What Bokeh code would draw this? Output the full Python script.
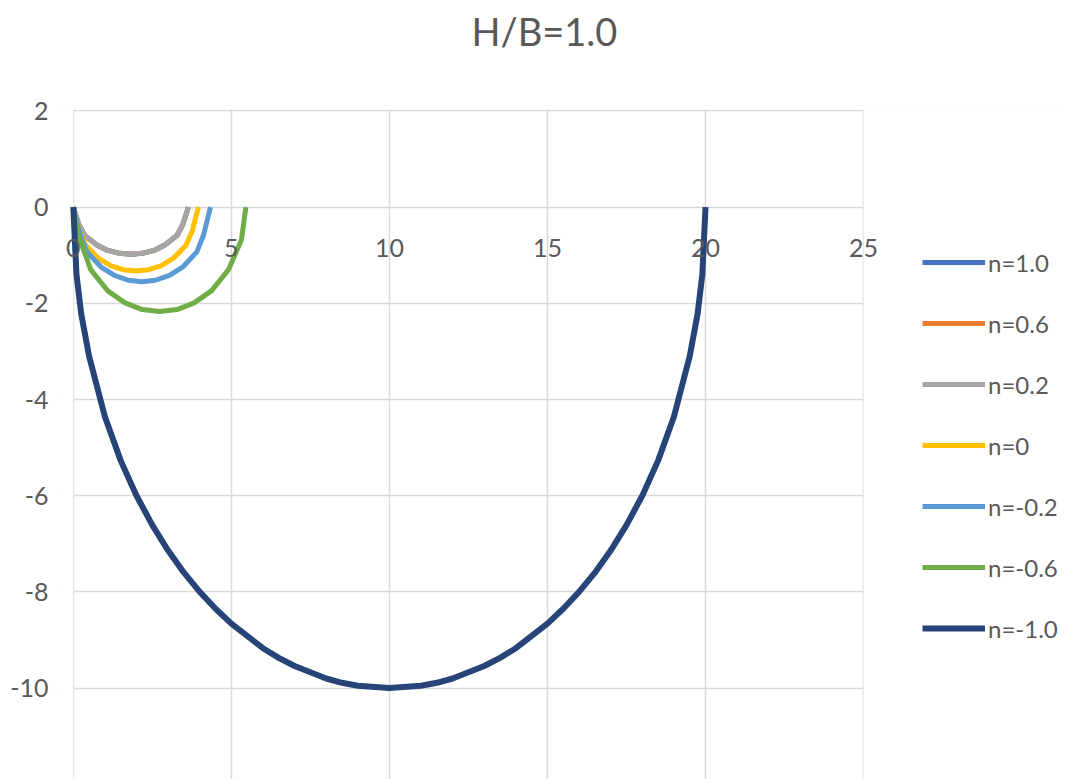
from bokeh.plotting import figure
from bokeh.models import Legend, LegendItem, Range1d, FixedTicker, PrintfTickFormatter, BoxAnnotation, Title
from bokeh.embed import file_html
from bokeh.resources import INLINE

# ---- data ----
labels = ["n=1.0", "n=0.6", "n=0.2", "n=0", "n=-0.2", "n=-0.6", "n=-1.0"]
colors = ["#4472C4", "#ED7D31", "#A5A5A5", "#FFC000", "#5B9BD5", "#70AD47", "#264478"]
widths = [5, 5, 5, 5, 5, 5, 6]

# n=1.0 and n=0.6 are hidden underneath the n=0.2 curve in the picture
x_n10 = [0, 0.18, 0.36, 0.73, 1.09, 1.46, 1.82, 2.18, 2.55, 2.91, 3.28, 3.46, 3.64]
y_n10 = [0, -0.37, -0.59, -0.78, -0.90, -0.96, -0.98, -0.96, -0.90, -0.78, -0.59, -0.37, 0]
x_n06 = [0, 0.18, 0.36, 0.73, 1.09, 1.46, 1.82, 2.18, 2.55, 2.91, 3.28, 3.46, 3.64]
y_n06 = [0, -0.37, -0.59, -0.78, -0.90, -0.96, -0.98, -0.96, -0.90, -0.78, -0.59, -0.37, 0]
x_n02 = [0, 0.18, 0.36, 0.73, 1.09, 1.46, 1.82, 2.18, 2.55, 2.91, 3.28, 3.46, 3.64]
y_n02 = [0, -0.37, -0.59, -0.78, -0.90, -0.96, -0.98, -0.96, -0.90, -0.78, -0.59, -0.37, 0]
x_n0 = [0, 0.20, 0.40, 0.79, 1.19, 1.58, 1.98, 2.38, 2.77, 3.17, 3.56, 3.76, 3.96]
y_n0 = [0, -0.50, -0.80, -1.06, -1.22, -1.30, -1.33, -1.30, -1.22, -1.06, -0.80, -0.50, 0]
x_m02 = [0, 0.22, 0.43, 0.87, 1.30, 1.74, 2.17, 2.60, 3.04, 3.47, 3.91, 4.12, 4.34]
y_m02 = [0, -0.58, -0.93, -1.24, -1.42, -1.52, -1.55, -1.52, -1.42, -1.24, -0.93, -0.58, 0]
x_m06 = [0, 0.14, 0.55, 1.09, 1.64, 2.18, 2.73, 3.28, 3.82, 4.37, 4.91, 5.32, 5.46]
y_m06 = [0, -0.55, -1.30, -1.74, -1.99, -2.13, -2.17, -2.13, -1.99, -1.74, -1.30, -0.68, 0]
x_m10 = [0, 0.1, 0.25, 0.5, 1, 1.5, 2, 2.5, 3, 3.5, 4, 4.5, 5, 6, 6.5, 7, 8, 8.5, 9, 10,
         11, 11.5, 12, 13, 13.5, 14, 15, 15.5, 16, 16.5, 17, 17.5, 18, 18.5, 19, 19.5, 19.75, 19.9, 20]
y_m10 = [0, -1.4, -2.22, -3.1, -4.36, -5.27, -6.0, -6.61, -7.14, -7.6, -8.0, -8.35, -8.66, -9.17,
         -9.37, -9.54, -9.8, -9.89, -9.95, -10.0, -9.95, -9.89, -9.8, -9.54, -9.37, -9.17, -8.66,
         -8.35, -8.0, -7.6, -7.14, -6.61, -6.0, -5.27, -4.36, -3.1, -2.22, -1.4, 0]

xs = [x_n10, x_n06, x_n02, x_n0, x_m02, x_m06, x_m10]
ys = [y_n10, y_n06, y_n02, y_n0, y_m02, y_m06, y_m10]

x_ticks = [0, 5, 10, 15, 20, 25]
y_ticks = [2, 0, -2, -4, -6, -8, -10, -12]
x_lo, x_hi = 0, 25
title_text = "H/B=1.0"

FONT = "Lato"
TXT = "#595959"

p = figure(width=1066, height=779, output_backend="svg", toolbar_location=None,
           x_range=Range1d(-0.5, 31.42), y_range=Range1d(-11.9, 2.03),
           min_border_left=57, min_border_right=0, min_border_top=109, min_border_bottom=0)

p.title.text = title_text
p.title.align = "left"
p.title.offset = 414
p.title.text_font = FONT
p.title.text_font_size = "38px"
p.title.text_font_style = "normal"
p.title.text_color = TXT
p.title.standoff = 0

# spacer between the title and the plot area
spacer = Title(text=" ", text_font=FONT, text_font_size="10px", standoff=42)
p.add_layout(spacer, "above")

p.outline_line_color = None
p.background_fill_color = "white"

for g, t in ((p.xgrid, x_ticks), (p.ygrid, y_ticks)):
    g.ticker = FixedTicker(ticks=t)
    g.grid_line_color = "#D9D9D9"
    g.grid_line_width = 1.5

# horizontal grid lines only span the data x-range 0..25
mask_l = BoxAnnotation(right=x_lo, fill_color="white", fill_alpha=1, line_color=None, level="underlay")
mask_r = BoxAnnotation(left=x_hi, fill_color="white", fill_alpha=1, line_color=None, level="underlay")
p.add_layout(mask_l)
p.add_layout(mask_r)

p.xaxis.ticker = FixedTicker(ticks=x_ticks)
p.xaxis.fixed_location = 0
p.yaxis.ticker = FixedTicker(ticks=y_ticks)
for ax in (p.xaxis, p.yaxis):
    ax.axis_line_color = None
    ax.major_tick_line_color = None
    ax.minor_tick_line_color = None
    ax.major_label_text_font = FONT
    ax.major_label_text_font_size = "25px"
    ax.major_label_text_color = TXT
    ax.formatter = PrintfTickFormatter(format="%d")
p.xaxis.major_label_standoff = 26
p.yaxis.major_label_standoff = 3

items = []
for lab, col, w, x, y in zip(labels, colors, widths, xs, ys):
    r = p.line(x, y, line_color=col, line_width=w)
    items.append(LegendItem(label=lab, renderers=[r]))

legend = Legend(items=items, location=(865, 131))
legend.label_text_font = FONT
legend.label_text_font_size = "24px"
legend.label_text_color = TXT
legend.glyph_width = 63
legend.glyph_height = 40
legend.label_height = 40
legend.label_standoff = 3
legend.spacing = 21
legend.padding = 0
legend.margin = 0
legend.border_line_color = None
legend.background_fill_alpha = 0
p.add_layout(legend, "center")

open("out.html", "w").write(file_html(p, INLINE))
